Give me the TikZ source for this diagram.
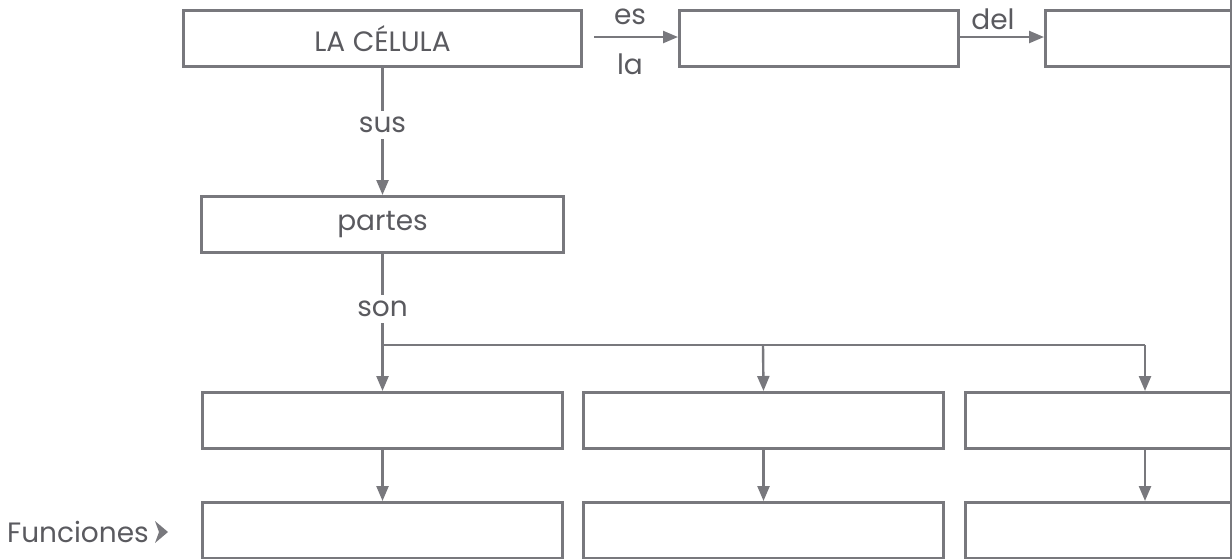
\documentclass[tikz,border=0pt]{standalone}
\usepackage{fontspec}
\setmainfont{Poppins}
\usetikzlibrary{arrows.meta}
\definecolor{ln}{RGB}{120,120,125}
\definecolor{tx}{RGB}{90,90,95}
\begin{document}
\begin{tikzpicture}[x=1pt,y=-1pt,
  box/.style={draw=ln,line width=3pt,minimum height=56pt,inner sep=0pt,anchor=north west,text=tx,font=\fontsize{28}{32}\selectfont},
  lbl/.style={text=tx,font=\fontsize{28}{32}\selectfont,inner sep=2pt},
  wl/.style={lbl,fill=white,inner ysep=6pt},
  arr/.style={draw=ln,line width=2.4pt,-{Triangle[length=15pt,width=12pt]}},
  con/.style={draw=ln,line width=2.4pt}]
\useasboundingbox (0,0) rectangle (1232,558);
% row 1
\node[box,minimum width=398pt] (cel) at (182,9) {LA CÉLULA};
\node[box,minimum width=279pt] (b2) at (678,9) {};
\node[box,minimum width=186pt] (b3) at (1044,9) {};
% partes
\node[box,minimum width=362pt] (par) at (200,195) {partes};
% row 3
\node[box,minimum width=360pt] (p1) at (201,391) {};
\node[box,minimum width=360pt] (p2) at (582,391) {};
\node[box,minimum width=266pt] (p3) at (964,391) {};
% row 4
\node[box,minimum width=360pt] (f1) at (201,501) {};
\node[box,minimum width=360pt] (f2) at (582,501) {};
\node[box,minimum width=266pt] (f3) at (964,501) {};
% labels
\node[lbl] (es) at (630,17) {es};
\node[lbl] (la) at (630,64) {la};
\node[lbl] (del) at (993,19) {del};
\node[lbl,anchor=east] (fun) at (151,532) {Funciones};
% right page edge
\draw[con] (1231,0) -- (1231,558);
% connectors
\coordinate (esA) at (594,37);
\draw[arr] (esA) -- (b2.west |- esA);
\draw[arr] (b2.east |- 0,37) -- (b3.west |- 0,37);
\draw[arr] (cel.south) -- node[wl,pos=0.45] (sus) {sus} (par.north);
\coordinate (hb) at (381,345);
\draw[con] (hb) -- (1145,345);
\draw[arr] (par.south) -- node[wl,pos=0.4] (son) {son} (p1.north);
\draw[arr] (763,345) -- (p2.north);
\draw[arr] (1145,345) -- (1145,391);
\draw[arr] (p1.south) -- (f1.north);
\draw[arr] (p2.south) -- (f2.north);
\draw[arr] (1145,449) -- (f3.north -| 1145,0);
% Funciones marker
\fill[ln] (155,521) -- (168,532) -- (155,543) -- (159,532) -- cycle;
\end{tikzpicture}
\end{document}
